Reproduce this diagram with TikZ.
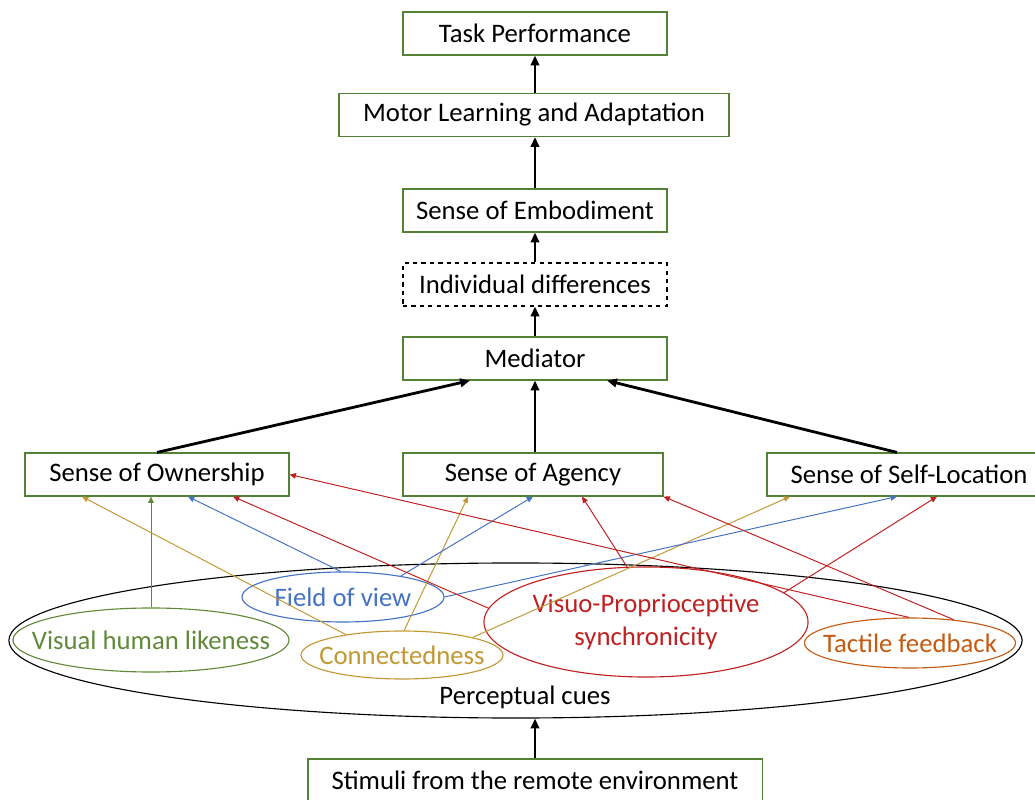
\documentclass[tikz,border=0pt]{standalone}
\usepackage{fontspec}
\setmainfont{Carlito}
\usetikzlibrary{arrows.meta,shapes.geometric,calc}
\definecolor{boxgreen}{RGB}{84,130,53}
\definecolor{cuegreen}{RGB}{96,138,58}
\definecolor{cueblue}{RGB}{68,114,196}
\definecolor{cuegold}{RGB}{194,152,52}
\definecolor{cuered}{RGB}{192,32,32}
\definecolor{cueorange}{RGB}{197,90,17}
\begin{document}
\begin{tikzpicture}[x=0.025cm, y=-0.025cm,
    font=\fontsize{19}{24}\selectfont,
    box/.style={draw=boxgreen, line width=0.8pt, minimum width=6.6cm, minimum height=1.075cm, inner sep=0pt},
    cue/.style={ellipse, draw, line width=0.8pt, inner sep=-3cm, align=center},
    up/.style={line width=2pt, -{Triangle[length=7pt,width=6pt]}},
    link/.style={line width=0.7pt, -{Triangle[length=4.5pt,width=4pt]}}]
    \useasboundingbox (0,0) rectangle (1035,800);

    % outcome chain
    \node[box] (task) at (535,33.5) {Task Performance};
    \node[box, minimum width=9.75cm] (motor) at (534,115) {Motor Learning and Adaptation};
    \node[box] (emb) at (535,210.5) {Sense of Embodiment};
    \node[box, draw=black, dashed] (indiv) at (535,284.5) {Individual differences};
    \node[box] (med) at (535,358.5) {Mediator};

    % senses
    \node[box] (own) at (157,474.5) {Sense of Ownership};
    \node[box, minimum width=6.5cm] (agency) at (533,474.5) {Sense of Agency};
    \node[box, minimum width=7.1cm] (selfloc) at (909,474.5) {Sense of Self-Location};

    % perceptual cues
    \node[cue, minimum width=25.325cm, minimum height=3.875cm] (cues) at (515.5,640.5) {};
    \node (cuelabel) at (525,697) {Perceptual cues};
    \node[cue, draw=cuegreen, text=cuegreen, minimum width=6.9cm, minimum height=1.6cm] (vis) at (151,640) {Visual human likeness};
    \node[cue, draw=cueblue, text=cueblue, minimum width=5.05cm, minimum height=1.25cm] (fov) at (343,597) {Field of view};
    \node[cue, draw=cuegold, text=cuegold, minimum width=5.05cm, minimum height=1.2cm] (con) at (402,655) {Connectedness};
    \node[cue, draw=cuered, text=cuered, minimum width=8.1cm, minimum height=2.75cm] (vp) at (646,622) {Visuo-Proprioceptive\\synchronicity};
    \node[cue, draw=cueorange, text=cueorange, minimum width=5.275cm, minimum height=1.25cm] (tf) at (910,643) {Tactile feedback};

    \node[box, minimum width=11.35cm] (stim) at (535,780.5) {Stimuli from the remote environment};

    % main arrows
    \draw[up] (task.south |- motor.north) -- (task.south);
    \draw[up] (emb.north) -- (emb.north |- motor.south);
    \draw[up] (indiv.north) -- (emb.south);
    \draw[up] (med.north) -- (indiv.south);
    \draw[up] (med.south |- agency.north) -- (med.south);
    \draw[up] (own.north) -- ($(med.south)+(-65,0)$);
    \draw[up] ($(selfloc.north)+(-12,0)$) -- ($(med.south)+(72,0)$);
    \draw[up] (stim.north) -- (stim.north |- cues.south);

    % cue links
    \draw[link, cuegreen] (vis.north) -- (vis.north |- own.south);
    \draw[link, cuegold] (con.160) -- ($(own.south)+(-75,0)$);
    \draw[link, cuegold] (con.85) -- ($(agency.south)+(-65,0)$);
    \draw[link, cuegold] (con.14) -- ($(selfloc.south)+(-119,0)$);
    \draw[link, cueblue] (fov.95) -- ($(own.south)+(31,0)$);
    \draw[link, cueblue] (fov.20) -- (agency.south);
    \draw[link, cueblue] (fov.east) -- ($(selfloc.south)+(-12,0)$);
    \draw[link, cuered] (vp.175) -- ($(own.south)+(76,0)$);
    \draw[link, cuered] (vp.109) -- ($(agency.south)+(49,0)$);
    \draw[link, cuered] (vp.12) -- ($(selfloc.south)+(28,0)$);
    \draw[link, cuered] (tf.92) -- (own.east);
    \draw[link, cuered] (tf.28) -- (agency.south east);
\end{tikzpicture}
\end{document}
